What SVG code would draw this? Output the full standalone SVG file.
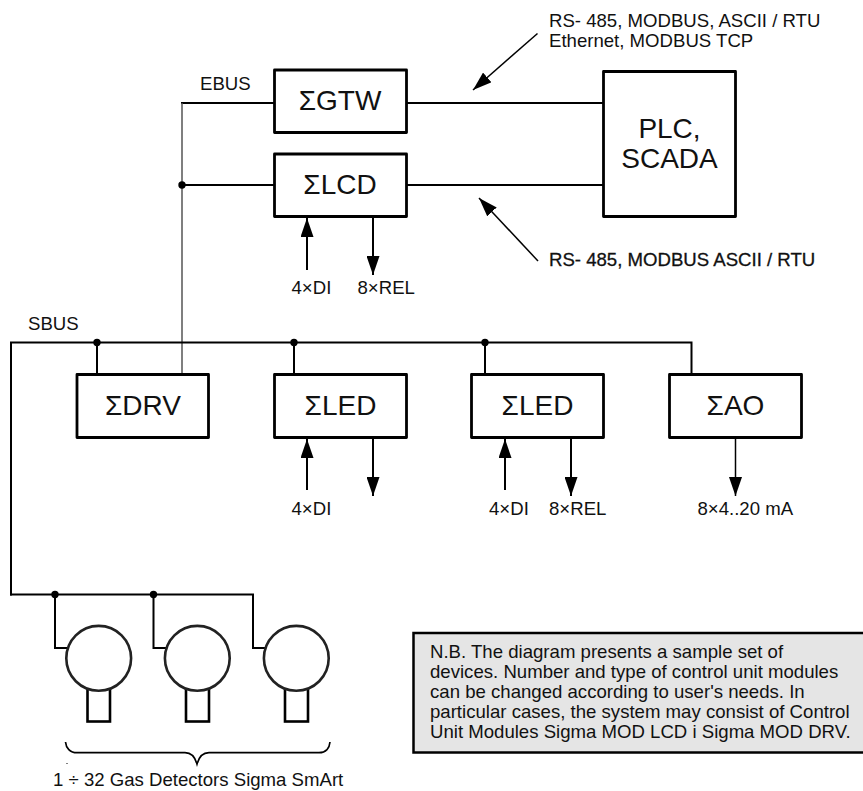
<svg xmlns="http://www.w3.org/2000/svg" width="863" height="791" viewBox="0 0 863 791">
<style>
text{font-family:"Liberation Sans",Arial,sans-serif;fill:#111}
.box{fill:#fff;stroke:#000;stroke-width:2.8;stroke-linejoin:round}
.n{font-size:28px;text-anchor:middle}
.l{font-size:18.600px}
.w{fill:none;stroke:#000;stroke-width:2;stroke-linecap:square}
.b{fill:none;stroke:#000;stroke-width:2}
.t{fill:none;stroke:#000;stroke-width:1.5}
.g{fill:none;stroke:#555;stroke-width:1.5}
.d{fill:#000}
.c{fill:#fff;stroke:#222;stroke-width:2.6}
.s{fill:#fff;stroke:#000;stroke-width:2.6}
</style>
<defs>
<marker id="a" markerUnits="userSpaceOnUse" markerWidth="19" markerHeight="13" refX="19" refY="6.5" viewBox="0 0 19 13" orient="auto"><path d="M0 0L19 6.5L0 13z" fill="#000"/></marker>
</defs>
<g id="connectors">
<path class="w" d="M274 103H182M274 185H182M406 103H603M406 185H603"/>
<path class="g" d="M182 103V373"/>
<path class="w" d="M11 594.5V342.5H691.5V373M97 343V373M294 343V373M485 343V373"/>
<path class="w" d="M11 594.5H253V648H265M55 594.5V648H66M153.500 594.500V648H165"/>
<path class="t" d="M537.500 33.500L473 90" marker-end="url(#a)"/>
<path class="t" d="M538 261L479 198" marker-end="url(#a)"/>
<path class="b" d="M307 270V218" marker-end="url(#a)"/>
<path class="b" d="M373 217V275" marker-end="url(#a)"/>
<path class="b" d="M307 490V439" marker-end="url(#a)"/>
<path class="b" d="M373 438V496" marker-end="url(#a)"/>
<path class="b" d="M505 490V439" marker-end="url(#a)"/>
<path class="b" d="M571 438V496" marker-end="url(#a)"/>
<path class="t" d="M735.500 438V496" marker-end="url(#a)"/>
<circle class="d" cx="182" cy="185" r="3.700"/><circle class="d" cx="97" cy="342.500" r="3.700"/><circle class="d" cx="294" cy="342.500" r="3.700"/><circle class="d" cx="485" cy="342.500" r="3.700"/><circle class="d" cx="55" cy="594.500" r="3.700"/><circle class="d" cx="153.500" cy="594.500" r="3.700"/>
</g>
<g id="gtw"><rect class="box" x="274.500" y="70" width="132" height="62.500"/><text class="n" x="340" y="110">ΣGTW</text></g>
<g id="lcd"><rect class="box" x="274.500" y="154" width="132" height="62.500"/><text class="n" x="340" y="194">ΣLCD</text></g>
<g id="plc"><rect class="box" x="603.500" y="71.500" width="132" height="145"/><text class="n" x="669.500" y="138">PLC,</text><text class="n" x="669.500" y="168">SCADA</text></g>
<g id="drv"><rect class="box" x="77" y="374.500" width="131.500" height="63"/><text class="n" x="143" y="415">ΣDRV</text></g>
<g id="led1"><rect class="box" x="274.500" y="374.500" width="132" height="63"/><text class="n" x="340.500" y="415">ΣLED</text></g>
<g id="led2"><rect class="box" x="471.500" y="374.500" width="132" height="63"/><text class="n" x="537.500" y="415">ΣLED</text></g>
<g id="ao"><rect class="box" x="669.500" y="374.500" width="132" height="63"/><text class="n" x="735.500" y="415">ΣAO</text></g>
<g id="det1"><rect class="s" x="87.500" y="684" width="22.500" height="37.500"/><circle class="c" cx="98.700" cy="658.300" r="32.400"/></g>
<g id="det2"><rect class="s" x="186" y="684" width="23" height="37.500"/><circle class="c" cx="197.300" cy="658.300" r="32.400"/></g>
<g id="det3"><rect class="s" x="285" y="684" width="23" height="37.500"/><circle class="c" cx="296.300" cy="658.300" r="32.400"/></g>
<path d="M65.500 742C66 748 70 752.700 77 752.700H185C191 752.700 195 757 197 764C199 757 203 752.700 209 752.700H319C326 752.700 329.500 748 330 742" fill="none" stroke="#000" stroke-width="1.700"/>
<rect x="66.500" y="763" width="1" height="1" fill="#000"/>
<g id="labels">
<text class="l" x="200" y="90">EBUS</text>
<text class="l" x="28" y="330">SBUS</text>
<text class="l" x="549" y="27">RS- 485, MODBUS, ASCII / RTU</text>
<text class="l" x="549" y="47">Ethernet, MODBUS TCP</text>
<text class="l" x="549" y="266" style="stroke:#111;stroke-width:.3">RS- 485, MODBUS ASCII / RTU</text>
<text class="l" x="291.500" y="294">4×DI</text>
<text class="l" x="357.500" y="294">8×REL</text>
<text class="l" x="291.500" y="515">4×DI</text>
<text class="l" x="489" y="515">4×DI</text>
<text class="l" x="549" y="515">8×REL</text>
<text class="l" x="697.500" y="515">8×4..20 mA</text>
<text class="l" x="53" y="786">1 ÷ 32 Gas Detectors Sigma SmArt</text>
</g>
<g id="note">
<rect x="413.500" y="633" width="452" height="119.500" fill="#e5e5e5" stroke="#000" stroke-width="2.500"/>
<text class="l" x="430" y="658">N.B. The diagram presents a sample set of</text>
<text class="l" x="430" y="678">devices. Number and type of control unit modules</text>
<text class="l" x="430" y="698">can be changed according to user's needs. In</text>
<text class="l" x="430" y="718">particular cases, the system may consist of Control</text>
<text class="l" x="430" y="738">Unit Modules Sigma MOD LCD i Sigma MOD DRV.</text>
</g>
</svg>
